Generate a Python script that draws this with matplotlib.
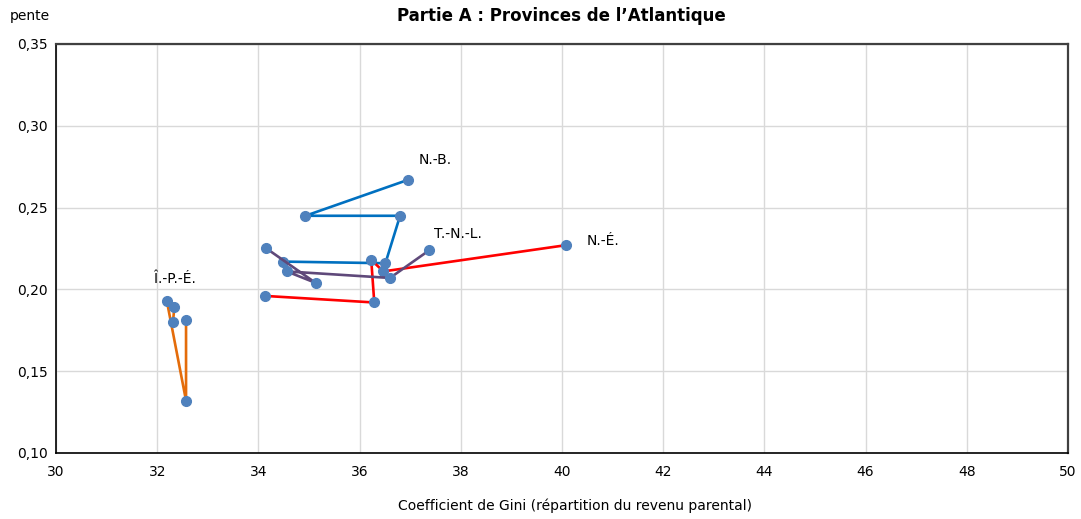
import matplotlib.pyplot as plt

# Gini coefficient (x) vs. slope (y), one trajectory per Atlantic province
nb_gini = [36.96, 34.93, 36.80, 36.51, 34.48]
nb_pente = [0.267, 0.245, 0.245, 0.216, 0.217]

ne_gini = [34.14, 36.29, 36.23, 36.47, 40.07]
ne_pente = [0.196, 0.192, 0.218, 0.211, 0.227]

tnl_gini = [34.16, 35.13, 34.56, 36.60, 37.38]
tnl_pente = [0.225, 0.204, 0.211, 0.207, 0.224]

ipe_gini = [32.31, 32.34, 32.19, 32.57, 32.57]
ipe_pente = [0.180, 0.189, 0.193, 0.132, 0.181]

x_ticks = [30, 32, 34, 36, 38, 40, 42, 44, 46, 48, 50]
y_ticks = [0.10, 0.15, 0.20, 0.25, 0.30, 0.35]

plt.rcParams["font.family"] = ["DejaVu Sans"]
FS = 10

fig = plt.figure(figsize=(10.81, 5.19), dpi=100)
ax = fig.add_axes([56 / 1081, 1 - 453 / 519, 1012 / 1081, 409 / 519])

marker_col = "#4F81BD"
series = [
    (nb_gini, nb_pente, "#0070C0"),
    (ne_gini, ne_pente, "#FF0000"),
    (tnl_gini, tnl_pente, "#5F497A"),
    (ipe_gini, ipe_pente, "#E46C0A"),
]
for xs, ys, col in series:
    ax.plot(xs, ys, color=col, lw=1.9, marker="o", ms=7,
            mfc=marker_col, mec=marker_col, zorder=3)

# province labels, offset from one point of each trajectory
labels = [
    ("N.-B.", nb_gini[0], nb_pente[0], (10, 20)),
    ("N.-É.", ne_gini[-1], ne_pente[-1], (21, 4)),
    ("T.-N.-L.", tnl_gini[-1], tnl_pente[-1], (5, 16)),
    ("Î.-P.-É.", ipe_gini[2], ipe_pente[2], (-13, 22)),
]
for name, x, y, off in labels:
    ax.annotate(name, (x, y), xytext=off, textcoords="offset pixels",
                ha="left", va="center", fontsize=FS, color="#000000")

ax.set_xlim(30, 50)
ax.set_ylim(0.10, 0.35)
ax.set_xticks(x_ticks)
ax.set_yticks(y_ticks)
ax.set_yticklabels([f"{v:.2f}".replace(".", ",") for v in y_ticks])
ax.grid(True, color="#D9D9D9", lw=1)
ax.set_axisbelow(True)
ax.tick_params(length=0, labelsize=FS, pad=6)
ax.tick_params(axis="x", pad=9)

for side in ("left", "bottom"):
    ax.spines[side].set_color("#000000")
    ax.spines[side].set_linewidth(1.2)
for side in ("top", "right"):
    ax.spines[side].set_color("#404040")
    ax.spines[side].set_linewidth(1.6)

fig.text(10 / 1081, 1 - 16 / 519, "pente", ha="left", va="center", fontsize=FS)
fig.text(561 / 1081, 1 - 16 / 519, "Partie A : Provinces de l’Atlantique",
         ha="center", va="center", fontsize=12, fontweight="bold")
fig.text(575 / 1081, 1 - 506 / 519,
         "Coefficient de Gini (répartition du revenu parental)",
         ha="center", va="center", fontsize=FS)

fig.savefig("out.png", dpi=100)
